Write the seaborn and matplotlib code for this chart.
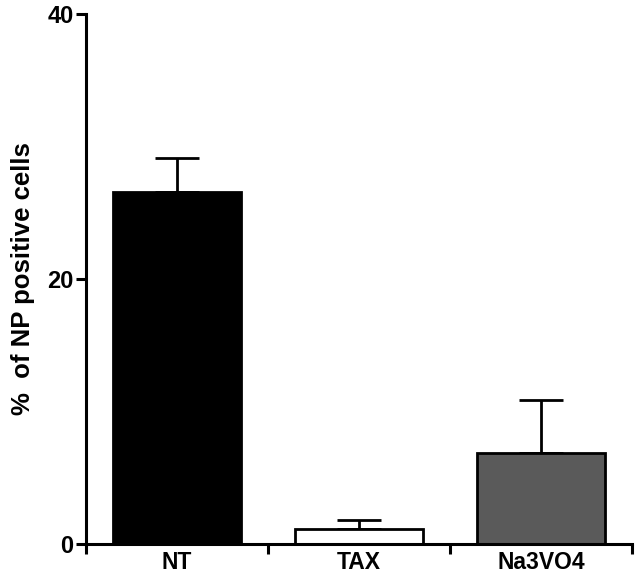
import numpy as np
import pandas as pd
import matplotlib
matplotlib.use("Agg")
import matplotlib.pyplot as plt
import seaborn as sns

# valores
grupos = ["NT", "TAX", "Na3VO4"]
media = [26.6, 1.1, 6.9]
erro = [2.5, 0.7, 4.0]
cores = ["#000000", "#ffffff", "#5a5a5a"]

df = pd.DataFrame({"grupo": grupos, "valor": media})

sns.set_style("ticks")
plt.rcParams["font.family"] = ["Liberation Sans", "DejaVu Sans"]
plt.rcParams["font.weight"] = "bold"
plt.rcParams["text.color"] = "black"
plt.rcParams["axes.labelcolor"] = "black"
plt.rcParams["xtick.color"] = "black"
plt.rcParams["ytick.color"] = "black"

fig = plt.figure(figsize=(6.41, 5.80), dpi=100)
ax = fig.add_axes([0.134, 0.062, 0.852, 0.914])

sns.barplot(data=df, x="grupo", y="valor", hue="grupo", palette=cores,
            edgecolor="black", linewidth=2.0, width=0.7, legend=False,
            ax=ax, zorder=2)

# barras de erro so para cima
ax.errorbar(np.arange(len(grupos)), media, yerr=[np.zeros(len(erro)), erro],
            fmt="none", ecolor="black", elinewidth=2.0, capsize=16,
            capthick=2.0, zorder=1)

ax.set_xlim(-0.5, 2.5)
ax.set_ylim(0, 40)
ax.set_yticks([0, 20, 40])
ax.set_xticks([-0.5, 0.5, 1.5, 2.5])
ax.set_xticklabels([])
ax.set_xticks([0, 1, 2], minor=True)
ax.set_xticklabels(grupos, minor=True, fontsize=16.5, fontweight="bold")
ax.tick_params(axis="x", which="minor", length=0, pad=5)
ax.tick_params(axis="x", which="major", length=7, width=2.2, direction="out")
ax.tick_params(axis="y", length=7, width=2.2, labelsize=17, pad=2)
for lab in ax.get_yticklabels():
    lab.set_fontweight("bold")

ax.set_xlabel("")
ax.set_ylabel("%  of NP positive cells", fontsize=18.5, fontweight="bold", labelpad=9)

sns.despine(ax=ax)
for s in ["left", "bottom"]:
    ax.spines[s].set_linewidth(2.2)
    ax.spines[s].set_color("black")

fig.savefig("out.png", dpi=100)
plt.close()
